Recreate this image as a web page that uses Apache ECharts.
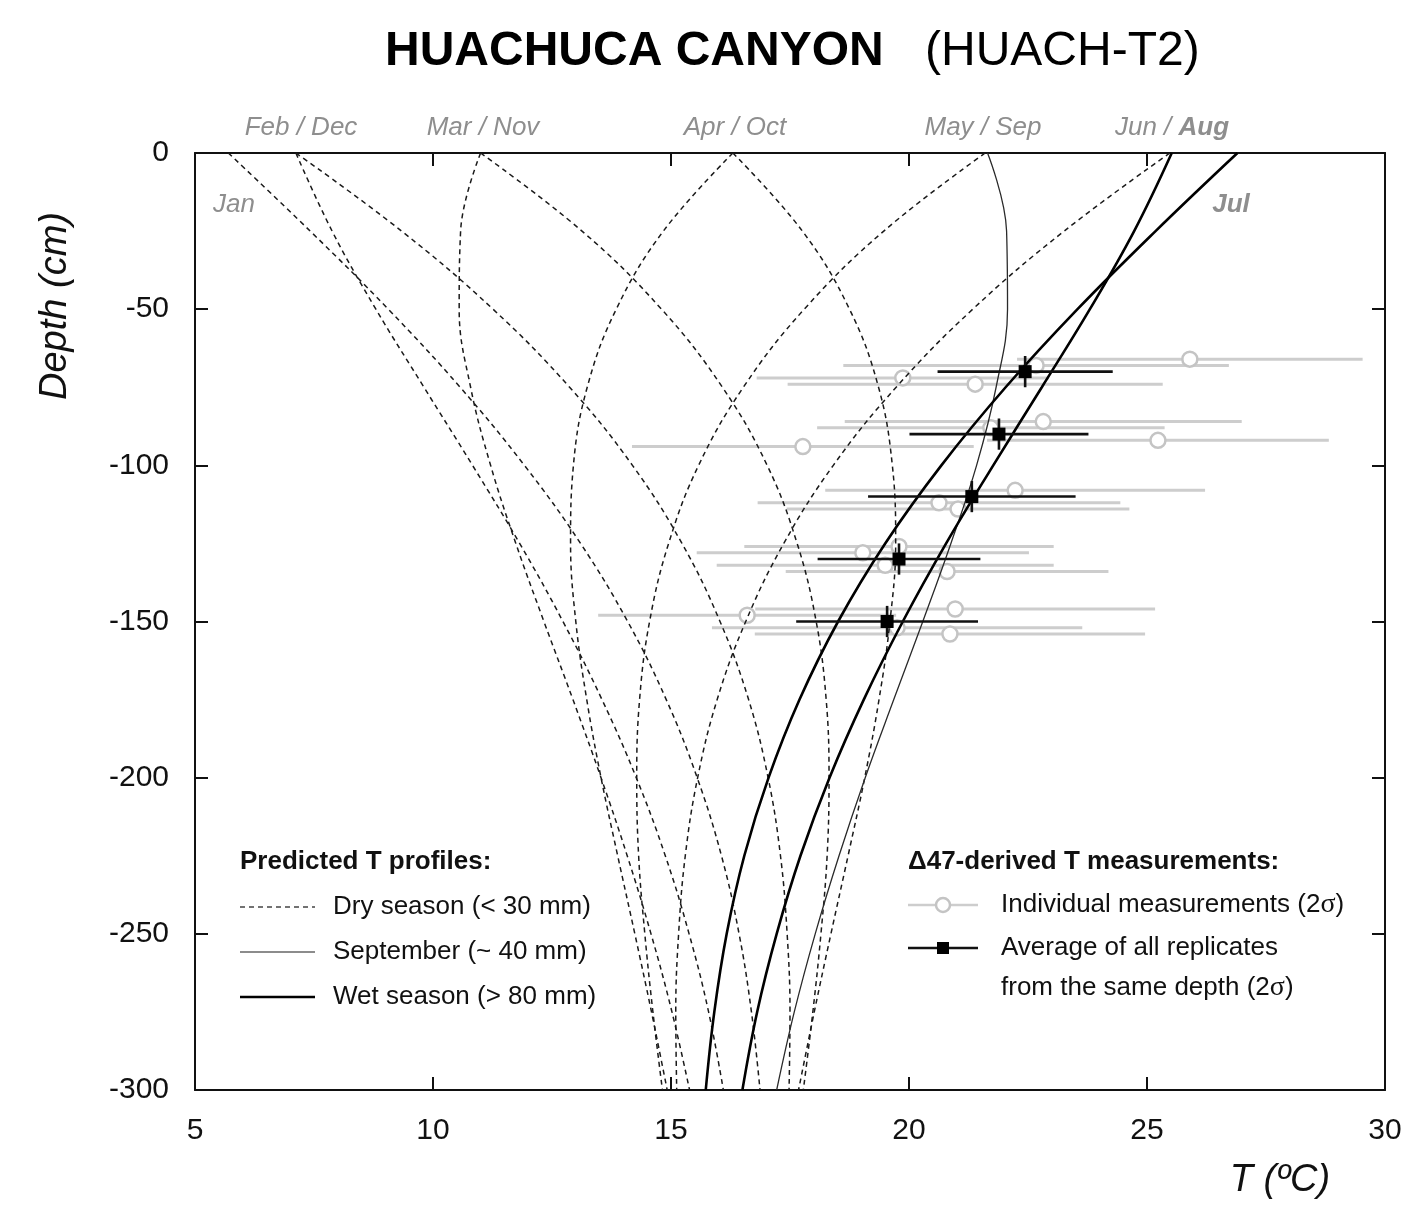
<!DOCTYPE html>
<html><head><meta charset="utf-8">
<script src="https://cdn.jsdelivr.net/npm/echarts@6/dist/echarts.min.js"></script>
<style>html,body{margin:0;padding:0;background:#fff}#chart{width:1405px;height:1205px}</style>
</head><body><div id="chart"></div>
<script>
// ---- data ----
const xTicks = [5, 10, 15, 20, 25, 30];
const yTicks = [0, -50, -100, -150, -200, -250, -300];
const depths = [0, -25, -50, -75, -100, -125, -150, -175, -200, -225, -250, -275, -300];
// dry season predicted profiles (dashed)
const janT = [5.70, 7.42, 9.06, 10.57, 11.92, 13.10, 14.09, 14.90, 15.55, 16.06, 16.43, 16.69, 16.87];
const febT = [7.12, 7.88, 8.80, 9.81, 10.83, 11.82, 12.73, 13.55, 14.27, 14.88, 15.38, 15.79, 16.10];
const marT = [11.00, 10.58, 10.55, 10.79, 11.21, 11.74, 12.33, 12.94, 13.53, 14.08, 14.58, 15.02, 15.39];
const aprT = [16.30, 14.84, 13.85, 13.24, 12.95, 12.89, 13.00, 13.23, 13.53, 13.88, 14.24, 14.59, 14.92];
const mayT = [21.60, 19.47, 17.80, 16.52, 15.58, 14.95, 14.55, 14.34, 14.28, 14.32, 14.45, 14.62, 14.82];
const junT = [25.48, 23.26, 21.34, 19.73, 18.41, 17.37, 16.57, 15.97, 15.56, 15.30, 15.16, 15.10, 15.12];
const octT = [16.30, 17.76, 18.75, 19.36, 19.65, 19.72, 19.60, 19.37, 19.07, 18.72, 18.36, 18.01, 17.68];
const novT = [11.00, 13.13, 14.80, 16.08, 17.02, 17.65, 18.05, 18.26, 18.32, 18.28, 18.15, 17.98, 17.78];
const decT = [7.12, 9.34, 11.26, 12.87, 14.19, 15.23, 16.03, 16.63, 17.04, 17.30, 17.44, 17.50, 17.48];
// September (thin solid)
const sepT = [21.65, 22.05, 22.07, 21.83, 21.42, 20.88, 20.29, 19.68, 19.08, 18.53, 18.03, 17.59, 17.22];
// wet season (thick solid)
const julT = [26.90, 25.18, 23.54, 22.03, 20.68, 19.50, 18.51, 17.70, 17.05, 16.54, 16.17, 15.91, 15.73];
const augT = [25.52, 24.73, 23.80, 22.79, 21.77, 20.78, 19.87, 19.05, 18.33, 17.72, 17.22, 16.81, 16.50];
// individual measurements (2 sigma)
const indivT = [25.90, 22.67, 19.87, 21.39, 22.82, 21.72, 17.77, 25.23, 22.23, 20.63, 21.03, 19.79, 19.03, 19.50, 20.80, 20.97, 16.60, 19.75, 20.86];
const indivDepth = [-66, -68, -72, -74, -86, -88, -94, -92, -108, -112, -114, -126, -128, -132, -134, -146, -148, -152, -154];
const indivErr = [3.63, 4.05, 3.07, 3.94, 4.17, 3.65, 3.59, 3.59, 3.99, 3.81, 3.60, 3.25, 3.49, 3.54, 3.39, 4.20, 3.13, 3.89, 4.10];
// averages (2 sigma)
const avgT = [22.44, 21.89, 21.32, 19.79, 19.54];
const avgDepth = [-70, -90, -110, -130, -150];
const avgErr = [1.84, 1.88, 2.18, 1.71, 1.91];
const avgDepthErr = [5, 5, 5, 5, 5];

// ---- chart ----
const FONT = "'Liberation Sans', Arial, Helvetica, sans-serif";
const chart = echarts.init(document.getElementById('chart'), null, {renderer: 'canvas'});
const pair = arr => arr.map((t, i) => [t, depths[i]]);

const dryList = [janT, febT, marT, aprT, mayT, junT, octT, novT, decT];
const dryNames = ['Jan', 'Feb', 'Mar', 'Apr', 'May', 'Jun', 'Oct', 'Nov', 'Dec'];

const series = [];
series.push({
  type: 'custom', name: 'indivBars', z: 1, silent: true,
  coordinateSystem: 'cartesian2d', encode: {x: 0, y: 1},
  data: indivT.map((t, i) => [t, indivDepth[i], indivErr[i]]),
  renderItem: function (params, api) {
    const t = api.value(0), d = api.value(1), e = api.value(2);
    const a = api.coord([t - e, d]), b = api.coord([t + e, d]);
    return {type: 'line', shape: {x1: a[0], y1: a[1], x2: b[0], y2: b[1]},
      style: {stroke: '#cdcdcd', lineWidth: 3}};
  }
});
series.push({
  type: 'scatter', name: 'indiv', z: 2, silent: true,
  data: indivT.map((t, i) => [t, indivDepth[i]]),
  symbol: 'circle', symbolSize: 15,
  itemStyle: {color: '#ffffff', borderColor: '#c4c4c4', borderWidth: 2.5, opacity: 1}
});
dryList.forEach((arr, k) => {
  series.push({
    type: 'line', name: dryNames[k], z: 3, silent: true, data: pair(arr),
    smooth: 0.4, symbol: 'none',
    lineStyle: {color: '#1a1a1a', width: 1.5, type: [5, 4]}
  });
});
series.push({
  type: 'line', name: 'Sep', z: 3, silent: true, data: pair(sepT), smooth: 0.4, symbol: 'none',
  lineStyle: {color: '#2a2a2a', width: 1.3}
});
[julT, augT].forEach((arr, k) => {
  series.push({
    type: 'line', name: k ? 'Aug' : 'Jul', z: 4, silent: true, data: pair(arr), smooth: 0.4, symbol: 'none',
    lineStyle: {color: '#000', width: 2.6}
  });
});
series.push({
  type: 'custom', name: 'avg', z: 5, silent: true,
  coordinateSystem: 'cartesian2d', encode: {x: 0, y: 1},
  data: avgT.map((t, i) => [t, avgDepth[i], avgErr[i], avgDepthErr[i]]),
  renderItem: function (params, api) {
    const t = api.value(0), d = api.value(1), e = api.value(2), de = api.value(3);
    const a = api.coord([t - e, d]), b = api.coord([t + e, d]);
    const c = api.coord([t, d - de]), f = api.coord([t, d + de]);
    const m = api.coord([t, d]);
    const s = 13;
    return {type: 'group', children: [
      {type: 'line', shape: {x1: a[0], y1: a[1], x2: b[0], y2: b[1]}, style: {stroke: '#111', lineWidth: 2.6}},
      {type: 'line', shape: {x1: c[0], y1: c[1], x2: f[0], y2: f[1]}, style: {stroke: '#111', lineWidth: 2.6}},
      {type: 'rect', shape: {x: m[0] - s / 2, y: m[1] - s / 2, width: s, height: s}, style: {fill: '#000'}}
    ]};
  }
});

const axisLine = {show: true, onZero: false, lineStyle: {color: '#111', width: 2}};
const tick = {show: true, inside: true, length: 13, lineStyle: {color: '#111', width: 2}};

const monthStyle = {font: "italic 26px " + FONT, fill: '#8e8e8e', textAlign: 'center', textVerticalAlign: 'middle'};
function mtext(x, y, text, bold) {
  return {type: 'text', x: x, y: y, z: 10, silent: true,
    style: Object.assign({}, monthStyle, {text: text, font: (bold ? 'italic bold 26px ' : 'italic 26px ') + FONT})};
}
function ltext(x, y, text, bold) {
  return {type: 'text', x: x, y: y, z: 10, silent: true,
    style: {text: text, font: (bold ? 'bold 26px ' : '26px ') + FONT, fill: '#111', textAlign: 'left', textVerticalAlign: 'middle',
      rich: {s: {fontFamily: "'Liberation Serif', 'DejaVu Serif', serif", fontSize: 28, fill: '#111'}}}};
}

chart.setOption({
  animation: false,
  backgroundColor: '#ffffff',
  grid: {left: 195, top: 153, width: 1190, height: 937, containLabel: false},
  xAxis: [
    {type: 'value', position: 'bottom', min: xTicks[0], max: xTicks[xTicks.length - 1], interval: xTicks[1] - xTicks[0],
      axisLine: axisLine, axisTick: tick, splitLine: {show: false},
      axisLabel: {show: true, fontSize: 30, fontFamily: FONT, color: '#111', margin: 26}},
    {type: 'value', position: 'top', min: xTicks[0], max: xTicks[xTicks.length - 1], interval: xTicks[1] - xTicks[0],
      axisLine: axisLine, axisTick: tick, splitLine: {show: false}, axisLabel: {show: false}}
  ],
  yAxis: [
    {type: 'value', position: 'left', min: yTicks[yTicks.length - 1], max: yTicks[0], interval: yTicks[0] - yTicks[1],
      axisLine: axisLine, axisTick: tick, splitLine: {show: false},
      axisLabel: {show: true, fontSize: 30, fontFamily: FONT, color: '#111', margin: 26}},
    {type: 'value', position: 'right', min: yTicks[yTicks.length - 1], max: yTicks[0], interval: yTicks[0] - yTicks[1],
      axisLine: axisLine, axisTick: tick, splitLine: {show: false}, axisLabel: {show: false}}
  ],
  series: series,
  graphic: [
    {type: 'text', x: 385, y: 52, silent: true, style: {text: 'HUACHUCA CANYON', font: 'bold 48px ' + FONT, fill: '#000', textAlign: 'left', textVerticalAlign: 'middle'}},
    {type: 'text', x: 925, y: 52, silent: true, style: {text: '(HUACH-T2)', font: '48px ' + FONT, fill: '#000', textAlign: 'left', textVerticalAlign: 'middle'}},
    {type: 'text', x: 55, y: 306, rotation: Math.PI / 2, silent: true, style: {text: 'Depth (cm)', font: 'italic 38px ' + FONT, fill: '#111', textAlign: 'center', textVerticalAlign: 'middle'}},
    {type: 'text', x: 1280, y: 1180, silent: true, style: {text: 'T (\u00baC)', font: 'italic 38px ' + FONT, fill: '#111', textAlign: 'center', textVerticalAlign: 'middle'}},
    mtext(301, 128, 'Feb / Dec'),
    mtext(483, 128, 'Mar / Nov'),
    mtext(735, 128, 'Apr / Oct'),
    mtext(983, 128, 'May / Sep'),
    {type: 'text', x: 1172, y: 128, z: 10, silent: true, style: {text: 'Jun / {b|Aug}', font: 'italic 26px ' + FONT, fill: '#8e8e8e', textAlign: 'center', textVerticalAlign: 'middle',
      rich: {b: {fontWeight: 'bold', fontStyle: 'italic', fontSize: 26, fontFamily: FONT, fill: '#8e8e8e'}}}},
    mtext(234, 205, 'Jan'),
    mtext(1231, 205, 'Jul', true),
    // left legend
    ltext(240, 862, 'Predicted T profiles:', true),
    {type: 'line', silent: true, shape: {x1: 240, y1: 907, x2: 315, y2: 907}, style: {stroke: '#444', lineWidth: 1.3, lineDash: [5, 4]}},
    ltext(333, 907, 'Dry season (< 30 mm)'),
    {type: 'line', silent: true, shape: {x1: 240, y1: 952, x2: 315, y2: 952}, style: {stroke: '#666', lineWidth: 1.5}},
    ltext(333, 952, 'September (~ 40 mm)'),
    {type: 'line', silent: true, shape: {x1: 240, y1: 997, x2: 315, y2: 997}, style: {stroke: '#000', lineWidth: 2.6}},
    ltext(333, 997, 'Wet season (> 80 mm)'),
    // right legend
    ltext(908, 862, '\u039447-derived T measurements:', true),
    {type: 'line', silent: true, shape: {x1: 908, y1: 905, x2: 978, y2: 905}, style: {stroke: '#cdcdcd', lineWidth: 2.5}},
    {type: 'circle', silent: true, shape: {cx: 943, cy: 905, r: 7}, style: {fill: '#fff', stroke: '#c4c4c4', lineWidth: 2.5}},
    ltext(1001, 905, 'Individual measurements (2{s|\u03c3})'),
    {type: 'line', silent: true, shape: {x1: 908, y1: 948, x2: 978, y2: 948}, style: {stroke: '#111', lineWidth: 2.6}},
    {type: 'rect', silent: true, shape: {x: 937, y: 942, width: 12, height: 12}, style: {fill: '#000'}},
    ltext(1001, 948, 'Average of all replicates'),
    ltext(1001, 988, 'from the same depth (2{s|\u03c3})')
  ]
});
</script>
</body></html>
